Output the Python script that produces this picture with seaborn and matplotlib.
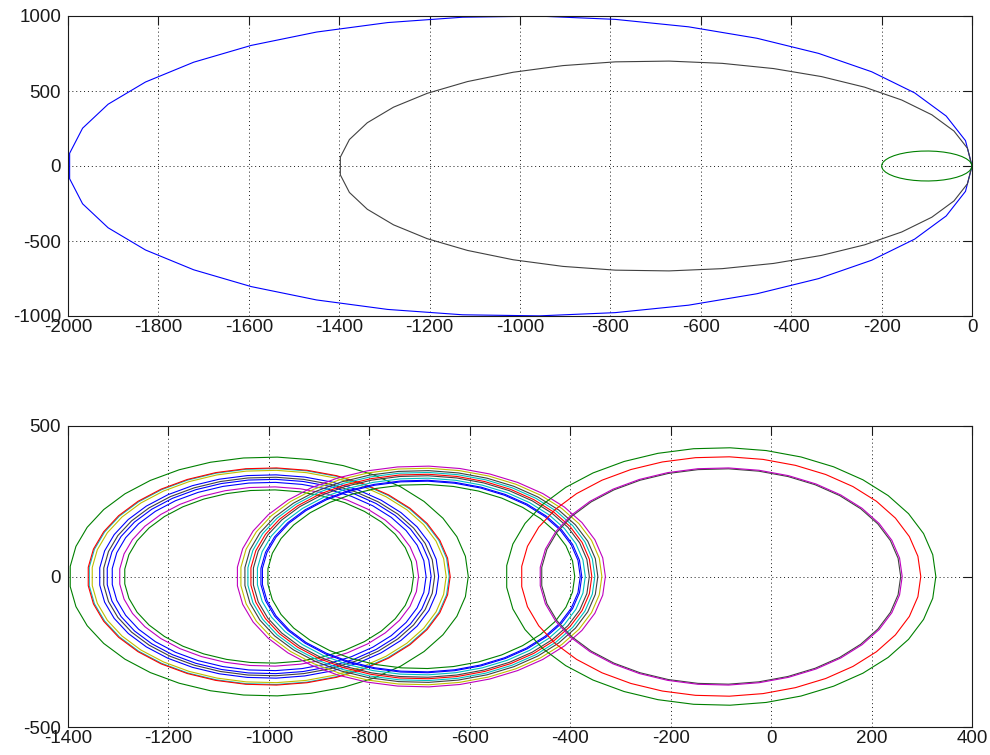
import numpy as np
import matplotlib
matplotlib.use("Agg")
import matplotlib.pyplot as plt
from matplotlib.patches import RegularPolygon
import seaborn as sns

# old MATLAB colour order
B = (0, 0, 1)
G = (0, 0.5, 0)
R = (1, 0, 0)
C = (0, 0.75, 0.75)
M = (0.75, 0, 0.75)
Y = (0.75, 0.75, 0)
K = (0.25, 0.25, 0.25)

# top plot: three circles
top_centers = [-1000, -700, -100]
top_radii = [1000, 700, 100]
top_colors = [B, K, G]

# bottom plot: three groups of circles
left_center = -1000
left_radii = [397, 359, 361, 353, 338, 330, 323, 313, 298, 288]
left_colors = [G, C, R, Y, B, K, B, B, M, G]

mid_center = -697
mid_radii = [367, 360, 352, 346, 340, 335, 327, 320, 317, 306]
mid_colors = [M, Y, K, C, R, K, C, B, B, G]

right_center = -100
right_radii = [428, 398, 358, 361]
right_colors = [G, R, K, M]

top_xticks = list(range(-2000, 1, 200))
top_yticks = [-1000, -500, 0, 500, 1000]
bot_xticks = list(range(-1400, 401, 200))
bot_yticks = [-500, 0, 500]

N_SEG = 37  # polygon resolution of the original circles

sns.set_theme(style="white")
plt.rcParams['font.family'] = ['Liberation Sans', 'DejaVu Sans']
plt.rcParams['axes.unicode_minus'] = False


def draw_circles(ax, centers, radii, colors):
    for cx, r, col in zip(centers, radii, colors):
        ax.add_patch(RegularPolygon((cx, 0), numVertices=N_SEG, radius=r,
                                    orientation=-np.pi / 2, fill=False,
                                    edgecolor=col, linewidth=0.8))


def style_axes(ax, xticks, yticks):
    ax.set_xlim(xticks[0], xticks[-1])
    ax.set_ylim(yticks[0], yticks[-1])
    ax.set_xticks(xticks)
    ax.set_yticks(yticks)
    ax.grid(True, color='k', linestyle=(0, (1, 3)), linewidth=0.7)
    ax.set_axisbelow(True)
    ax.tick_params(direction='in', length=6.5, width=0.8, color='k',
                   top=True, right=True, labelsize=13.5, labelcolor='k')
    ax.tick_params(axis='x', pad=2)
    ax.tick_params(axis='y', pad=5)
    for s in ax.spines.values():
        s.set_visible(True)
        s.set_color('k')
        s.set_linewidth(0.8)


fig = plt.figure(figsize=(9.9, 7.55), dpi=100)
ax1 = fig.add_axes([68 / 990, 1 - 316 / 755, 904 / 990, 300 / 755])
ax2 = fig.add_axes([68 / 990, 1 - 727 / 755, 904 / 990, 301 / 755])

draw_circles(ax1, top_centers, top_radii, top_colors)
style_axes(ax1, top_xticks, top_yticks)

draw_circles(ax2, [left_center] * len(left_radii), left_radii, left_colors)
draw_circles(ax2, [mid_center] * len(mid_radii), mid_radii, mid_colors)
draw_circles(ax2, [right_center] * len(right_radii), right_radii, right_colors)
style_axes(ax2, bot_xticks, bot_yticks)

fig.savefig("out.png", dpi=100, facecolor='white')
